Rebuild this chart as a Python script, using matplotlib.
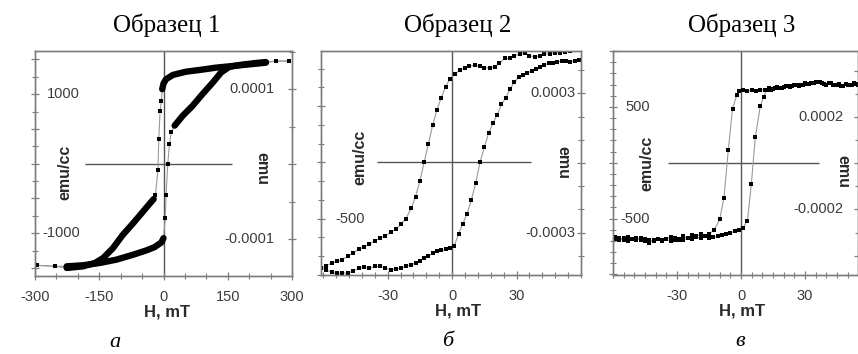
import matplotlib.pyplot as plt
from matplotlib.ticker import MultipleLocator, NullFormatter

plt.rcParams['font.family'] = ['Liberation Sans', 'DejaVu Sans']
plt.rcParams['axes.unicode_minus'] = False

# ---- Образец 1 (H in mT, M in emu/cc) ----
s1_dn_h = [293, 262, 239, 200, 161, 122, 84, 53, 22, 6, 0, -3, -5, -8, -11, -13, -19,
           -23, -33, -48, -71, -95, -118, -141, -160, -188, -226, -253, -296]
s1_dn_m = [1476, 1476, 1452, 1428, 1404, 1380, 1347, 1323, 1276, 1214, 1152, 1071, 904, 762,
           357, -95, -452, -509, -580, -690, -857, -1023, -1214, -1357, -1428, -1476, -1499,
           -1476, -1461]
s1_up_h = [-296, -253, -226, -188, -149, -110, -71, -40, -21, -5, 0, 4, 6, 10, 14, 18, 26,
           45, 68, 91, 115, 134, 153, 177, 215, 239, 262, 293]
s1_up_m = [-1461, -1476, -1476, -1461, -1428, -1380, -1309, -1247, -1200, -1133, -1071, -785,
           -452, 0, 286, 452, 547, 690, 833, 1000, 1166, 1309, 1390, 1418, 1447, 1461, 1476,
           1476]

# ---- Образец 2 ----
s2_dn_h = [57, 55, 52.5, 50, 48, 45.5, 43, 41, 38.5, 36, 34, 31.5, 29, 27, 24.5, 22, 20,
           17.5, 15, 13, 10.5, 8, 6, 3.5, 1.5, -1, -3, -5, -7, -9, -11, -13, -15, -17, -19,
           -21.5, -24, -26, -28.5, -31, -33.5, -36, -38.5, -41, -43.5, -46, -48.5, -51,
           -53.5, -56, -58.5, -61]
s2_dn_m = [1000, 994, 985, 976, 976, 964, 964, 945, 939, 945, 976, 964, 945, 924, 924, 879,
           848, 839, 842, 854, 864, 854, 842, 818, 788, 742, 673, 576, 470, 333, 167, 0,
           -167, -303, -409, -500, -551, -591, -621, -651, -673, -697, -727, -751, -773,
           -803, -833, -864, -879, -894, -918, -939]
s2_up_h = [-61, -58.5, -56, -53.5, -51, -48.5, -46, -43.5, -41, -38.5, -36, -33.5, -31,
           -28.5, -26, -24, -21.5, -19, -17, -15, -13, -11, -9, -7, -5, -3, -1, 1, 3, 5, 7,
           9, 11, 13, 15, 17, 19, 21, 23, 25, 27, 29, 31, 33, 35, 37, 39, 41, 43, 45, 47,
           49, 51, 53, 55, 57, 59]
s2_up_m = [-939, -955, -976, -985, -980, -985, -964, -939, -933, -939, -924, -924, -939,
           -955, -948, -939, -924, -909, -894, -873, -848, -833, -803, -788, -782, -773,
           -758, -742, -636, -545, -455, -333, -182, 0, 136, 258, 348, 424, 515, 576, 652,
           712, 758, 773, 794, 812, 833, 848, 864, 879, 885, 894, 900, 903, 894, 903, 909]

# ---- Образец 3 ----
s3_dn_h = [55, 53, 51, 49, 47, 45, 43, 41, 39, 37, 35, 33, 31, 29, 27, 25, 23, 21, 19, 17,
           15, 13, 11, 9, 7, 5, 3, 1, -1, -2, -4, -6, -8, -10, -12.5, -15, -17, -19, -21,
           -23, -25, -27, -29, -31, -33, -35, -37, -39, -41, -43, -45, -47, -49, -51, -53,
           -55, -57, -59]
s3_dn_m = [700, 712, 695, 705, 690, 700, 695, 710, 705, 720, 725, 715, 705, 700, 690, 695,
           680, 685, 670, 675, 660, 665, 650, 655, 645, 650, 640, 648, 645, 605, 484, 110,
           -314, -508, -600, -640, -655, -640, -660, -650, -670, -660, -690, -675, -665,
           -680, -700, -685, -705, -695, -680, -690, -670, -680, -665, -690, -675, -680]
s3_up_h = [-59, -57, -55, -53, -51, -49, -47, -45, -43, -41, -39, -37, -35, -33, -31, -29,
           -27, -25, -23, -21, -19, -17, -15, -13, -11, -9, -7, -5, -3, -1, 1, 3, 4.8, 6.7,
           9, 10.6, 12, 14, 16, 18, 20, 22, 24, 26, 28, 30, 32, 34, 36, 38, 40, 42, 44, 46,
           48, 50, 52, 54]
s3_up_m = [-665, -690, -675, -700, -685, -690, -675, -700, -715, -690, -680, -695, -685,
           -700, -690, -680, -695, -670, -685, -665, -675, -660, -670, -665, -660, -650,
           -640, -630, -615, -600, -580, -520, -194, 230, 505, 590, 650, 655, 665, 672, 680,
           690, 685, 700, 695, 710, 705, 715, 720, 710, 700, 712, 698, 705, 690, 700, 695,
           705]

FRAME = '#7d7d7d'
TXT = '#3c3c3c'
W, H = 858, 354

fig = plt.figure(figsize=(W / 100, H / 100), dpi=100)


def make_axes(left, top, right, bottom):
    return fig.add_axes([left / W, 1 - bottom / H, (right - left) / W, (bottom - top) / H])


def setup(ax, xlim, xmaj, xmin, xlab, ylim, ymaj, ymin, ylab, ylab_x,
          y2lim, y2maj, y2min, y2lab, y2lab_x, hline):
    ax.set_xlim(xlim)
    ax.set_ylim(ylim)
    for s in ax.spines.values():
        s.set_color(FRAME)
        s.set_linewidth(1.0)
    ax.xaxis.set_major_locator(MultipleLocator(xmaj))
    ax.xaxis.set_minor_locator(MultipleLocator(xmin))
    ax.set_xticks(xlab)
    ax.set_xticklabels([str(v) for v in xlab])
    ax.yaxis.set_major_locator(MultipleLocator(ymaj))
    ax.yaxis.set_minor_locator(MultipleLocator(ymin))
    ax.yaxis.set_major_formatter(NullFormatter())
    ax.tick_params(axis='both', which='major', direction='inout', length=6, width=0.9,
                   color=FRAME, labelsize=10.5, labelcolor=TXT)
    ax.tick_params(axis='both', which='minor', direction='inout', length=4, width=0.8,
                   color=FRAME)
    ax.tick_params(axis='x', pad=7)
    ax.tick_params(right=False, top=False, which='both')
    for v in ylab:
        ax.text(ylab_x, v, str(v), transform=ax.get_yaxis_transform(), ha='right',
                va='center', fontsize=10.5, color=TXT)
    ax.axvline(0, color='#555555', lw=1.0, zorder=1)
    ax.hlines(0, hline[0], hline[1], color='#555555', lw=1.0, zorder=1)

    ax2 = ax.twinx()
    ax2.set_ylim(y2lim)
    for s in ax2.spines.values():
        s.set_color(FRAME)
        s.set_linewidth(1.0)
    ax2.yaxis.set_major_locator(MultipleLocator(y2maj))
    ax2.yaxis.set_minor_locator(MultipleLocator(y2min))
    ax2.yaxis.set_major_formatter(NullFormatter())
    ax2.tick_params(axis='y', which='major', direction='inout', length=6, width=0.9,
                    color=FRAME)
    ax2.tick_params(axis='y', which='minor', direction='inout', length=4, width=0.8,
                    color=FRAME)
    for v in y2lab:
        ax2.text(y2lab_x, v, f'{v:.4f}', transform=ax2.get_yaxis_transform(), ha='right',
                 va='center', fontsize=10.5, color=TXT)
    return ax2


def branch(ax, h, m, ms=3.0):
    ax.plot(h, m, '-', color='#9a9a9a', lw=0.8, zorder=2)
    ax.plot(h, m, 's', color='black', ms=ms, mew=0, zorder=3)


def labels(ax, title, letter, tx, lx, ccx, ccy, ex, ey):
    ax.text(tx, 1.116, title, transform=ax.transAxes, ha='center', va='center',
            fontsize=18, family='Liberation Serif')
    ax.text(tx, -0.16, 'H, mT', transform=ax.transAxes, ha='center', va='center',
            fontsize=12, fontweight='bold', color='#2a2a2a')
    ax.text(lx, -0.295, letter, transform=ax.transAxes, ha='center', va='center',
            fontsize=16, family='Liberation Serif', style='italic')
    ax.text(ccx, ccy, 'emu/cc', transform=ax.transAxes, rotation=90, ha='center',
            va='center', fontsize=11.5, fontweight='bold', color='#2a2a2a')
    ax.text(ex, ey, 'emu', transform=ax.transAxes, rotation=-90, ha='center',
            va='center', fontsize=11.5, fontweight='bold', color='#2a2a2a')


# panel a
ax1 = make_axes(35, 51, 292, 276)
setup(ax1, (-300, 300), 150, 50, [-300, -150, 0, 150, 300], (-1615, 1620), 500, 250,
      [1000, -1000], 0.175, (-1.49e-4, 1.51e-4), 1e-4, 5e-5, [0.0001, -0.0001], 0.93,
      (-183, 160))
branch(ax1, s1_dn_h, s1_dn_m, ms=3.4)
branch(ax1, s1_up_h, s1_up_m, ms=3.4)
# dense parts of the loop look like a solid band
ax1.plot(s1_dn_h[2:12], s1_dn_m[2:12], '-', color='black', lw=4.6, solid_capstyle='round', zorder=4)
ax1.plot(s1_dn_h[17:27], s1_dn_m[17:27], '-', color='black', lw=4.6, solid_capstyle='round', zorder=4)
ax1.plot(s1_up_h[2:11], s1_up_m[2:11], '-', color='black', lw=4.6, solid_capstyle='round', zorder=4)
ax1.plot(s1_up_h[16:26], s1_up_m[16:26], '-', color='black', lw=4.6, solid_capstyle='round', zorder=4)
labels(ax1, 'Образец 1', 'а', 0.514, 0.311, 0.117, 0.462, 0.883, 0.476)

# panel б
ax2 = make_axes(321, 51, 581, 275)
setup(ax2, (-61, 60), 30, 6, [-30, 0, 30], (-1000, 990), 500, 500 / 3, [-500], 0.17,
      (-4.82e-4, 4.82e-4), 3e-4, 1e-4, [0.0003, -0.0003], 0.98, (-34.9, 36.7))
branch(ax2, s2_dn_h, s2_dn_m)
branch(ax2, s2_up_h, s2_up_m)
labels(ax2, 'Образец 2', 'б', 0.527, 0.488, 0.15, 0.527, 0.93, 0.504)

# panel в
ax3 = make_axes(613, 51, 858, 275)
setup(ax3, (-60, 54.8), 30, 5, [-30, 0, 30], (-1005, 1000), 500, 100, [500, -500], 0.15,
      (-4.84e-4, 4.86e-4), 2e-4, 1e-4, [0.0002, -0.0002], 0.94, (-34.2, 36.6))
branch(ax3, s3_dn_h, s3_dn_m)
branch(ax3, s3_up_h, s3_up_m)
labels(ax3, 'Образец 3', 'в', 0.527, 0.518, 0.139, 0.5, 0.94, 0.46)

fig.savefig('out.png', dpi=100)
